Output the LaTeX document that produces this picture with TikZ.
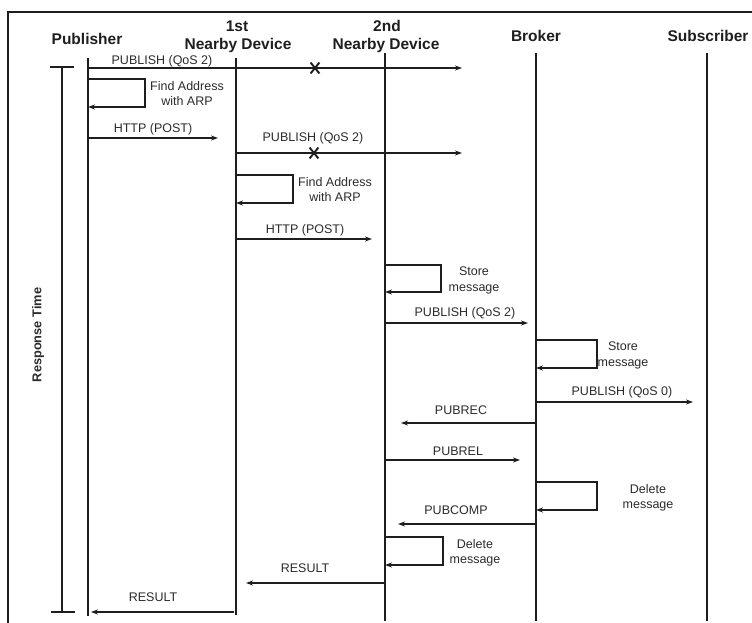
\documentclass[tikz,border=0pt]{standalone}
\usepackage{fontspec}
\setmainfont{Liberation Sans}
\usetikzlibrary{arrows.meta,shapes.misc}
\definecolor{ink}{HTML}{1E1E1E}
\definecolor{txt}{HTML}{2B2B2B}

\begin{document}
\begin{tikzpicture}[x=1pt,y=-1pt,
  lifeline/.style={line width=2.5pt, draw=ink},
  msg/.style={line width=1.3pt, draw=ink, -{Stealth[length=7pt,width=5pt]}},
  selfloop/.style={line width=1.3pt, draw=ink, -{Stealth[length=7pt,width=5pt]}},
  frameline/.style={line width=1.4pt, draw=ink},
  bracket/.style={line width=1.2pt, draw=ink},
  head/.style={font=\fontsize{15.5}{17}\selectfont\bfseries, text=ink, inner sep=0pt, anchor=base},
  lbl/.style={font=\fontsize{12.5}{14}\selectfont, text=txt, inner sep=0pt, anchor=base},
  lost/.style={cross out, draw=ink, line width=1.9pt, minimum width=7pt, minimum height=9pt, inner sep=0pt}
]
\useasboundingbox (0,0) rectangle (752,623);

% outer frame (top and left edges)
\coordinate (fTL) at (8,12);
\coordinate (fTR) at (752,12);
\coordinate (fBL) at (8,623);
\draw[frameline] (fTR) -- (fTL) -- (fBL);

% participant headings
\node[head] (hPub) at (87,45) {Publisher};
\node[head] (hN1a) at (237,32) {1st};
\node[head] (hN1b) at (238,50) {Nearby Device};
\node[head] (hN2a) at (387,32) {2nd};
\node[head] (hN2b) at (386,50) {Nearby Device};
\node[head] (hBro) at (536,42) {Broker};
\node[head] (hSub) at (708,42) {Subscriber};

% lifelines
\coordinate (pubT) at (88,58);   \coordinate (pubB) at (88,616);
\coordinate (n1T)  at (236,58);  \coordinate (n1B)  at (236,615);
\coordinate (n2T)  at (385,53);  \coordinate (n2B)  at (385,621);
\coordinate (broT) at (536,53);  \coordinate (broB) at (536,621);
\coordinate (subT) at (707,53);  \coordinate (subB) at (707,621);
\foreach \a/\b in {pubT/pubB, n1T/n1B, n2T/n2B, broT/broB, subT/subB}
  \draw[lifeline] (\a) -- (\b);

% response time bracket
\coordinate (rtT) at (62,67);   \coordinate (rtB) at (62,612);
\coordinate (rtTl) at (50,67);  \coordinate (rtTr) at (74,67);
\coordinate (rtBl) at (51,612); \coordinate (rtBr) at (75,612);
\draw[bracket] (rtT) -- (rtB);
\draw[bracket] (rtTl) -- (rtTr);
\draw[bracket] (rtBl) -- (rtBr);
\node[font=\fontsize{12.8}{14}\selectfont\bfseries, text=txt, rotate=90, inner sep=0pt] (rtLbl) at (38,335) {Response Time};

% 1: PUBLISH (QoS 2) from Publisher, lost
\coordinate (m1s) at (88,68);  \coordinate (m1e) at (462,68);
\draw[msg] (m1s) -- (m1e);
\node[lost] (x1) at (315,68) {};
\node[lbl] (l1) at (162,65) {PUBLISH (QoS 2)};

% 2: Find Address with ARP (Publisher)
\coordinate (a1s) at (88,79);  \coordinate (a1e) at (88,107);
\draw[selfloop] (a1s) -- ++(57,0) |- (a1e);
\node[lbl, align=center, anchor=north] (t2) at (187,81) {Find Address\\[1.5pt]with ARP};

% 3: HTTP (POST) Publisher -> 1st
\coordinate (m3s) at (88,138);  \coordinate (m3e) at (218,138);
\draw[msg] (m3s) -- (m3e);
\node[lbl] (l3) at (153,132) {HTTP (POST)};

% 4: PUBLISH (QoS 2) from 1st, lost
\coordinate (m4s) at (236,153);  \coordinate (m4e) at (462,153);
\draw[msg] (m4s) -- (m4e);
\node[lost] (x4) at (314,153) {};
\node[lbl] (l4) at (313,142) {PUBLISH (QoS 2)};

% 5: Find Address with ARP (1st)
\coordinate (a5s) at (236,175);  \coordinate (a5e) at (236,203);
\draw[selfloop] (a5s) -- ++(57,0) |- (a5e);
\node[lbl, align=center, anchor=north] (t5) at (335,177) {Find Address\\[1.5pt]with ARP};

% 6: HTTP (POST) 1st -> 2nd
\coordinate (m6s) at (236,239);  \coordinate (m6e) at (372,239);
\draw[msg] (m6s) -- (m6e);
\node[lbl] (l6) at (305,233) {HTTP (POST)};

% 7: Store message (2nd)
\coordinate (a7s) at (385,265);  \coordinate (a7e) at (385,292);
\draw[selfloop] (a7s) -- ++(56,0) |- (a7e);
\node[lbl, align=center, anchor=north] (t7) at (474,267) {Store\\[1.5pt]message};

% 8: PUBLISH (QoS 2) 2nd -> Broker
\coordinate (m8s) at (385,323);  \coordinate (m8e) at (528,323);
\draw[msg] (m8s) -- (m8e);
\node[lbl] (l8) at (465,316) {PUBLISH (QoS 2)};

% 9: Store message (Broker)
\coordinate (a9s) at (536,340);  \coordinate (a9e) at (536,368);
\draw[selfloop] (a9s) -- ++(61,0) |- (a9e);
\node[lbl, align=center, anchor=north] (t9) at (623,342) {Store\\[1.5pt]message};

% 10: PUBLISH (QoS 0) Broker -> Subscriber
\coordinate (m10s) at (536,402);  \coordinate (m10e) at (693,402);
\draw[msg] (m10s) -- (m10e);
\node[lbl] (l10) at (622,395) {PUBLISH (QoS 0)};

% 11: PUBREC Broker -> 2nd
\coordinate (m11s) at (536,423);  \coordinate (m11e) at (401,423);
\draw[msg] (m11s) -- (m11e);
\node[lbl] (l11) at (461,414) {PUBREC};

% 12: PUBREL 2nd -> Broker
\coordinate (m12s) at (385,460);  \coordinate (m12e) at (520,460);
\draw[msg] (m12s) -- (m12e);
\node[lbl] (l12) at (458,455) {PUBREL};

% 13: Delete message (Broker)
\coordinate (a13s) at (536,482);  \coordinate (a13e) at (536,510);
\draw[selfloop] (a13s) -- ++(61,0) |- (a13e);
\node[lbl, align=center, anchor=north] (t13) at (648,484) {Delete\\[1.5pt]message};

% 14: PUBCOMP Broker -> 2nd
\coordinate (m14s) at (536,524);  \coordinate (m14e) at (398,524);
\draw[msg] (m14s) -- (m14e);
\node[lbl] (l14) at (456,514) {PUBCOMP};

% 15: Delete message (2nd)
\coordinate (a15s) at (385,537);  \coordinate (a15e) at (385,565);
\draw[selfloop] (a15s) -- ++(58,0) |- (a15e);
\node[lbl, align=center, anchor=north] (t15) at (475,539) {Delete\\[1.5pt]message};

% 16: RESULT 2nd -> 1st
\coordinate (m16s) at (385,583);  \coordinate (m16e) at (246,583);
\draw[msg] (m16s) -- (m16e);
\node[lbl] (l16) at (305,572) {RESULT};

% 17: RESULT 1st -> Publisher
\coordinate (m17s) at (234,612);  \coordinate (m17e) at (91,612);
\draw[msg] (m17s) -- (m17e);
\node[lbl] (l17) at (153,601) {RESULT};
\end{tikzpicture}
\end{document}
